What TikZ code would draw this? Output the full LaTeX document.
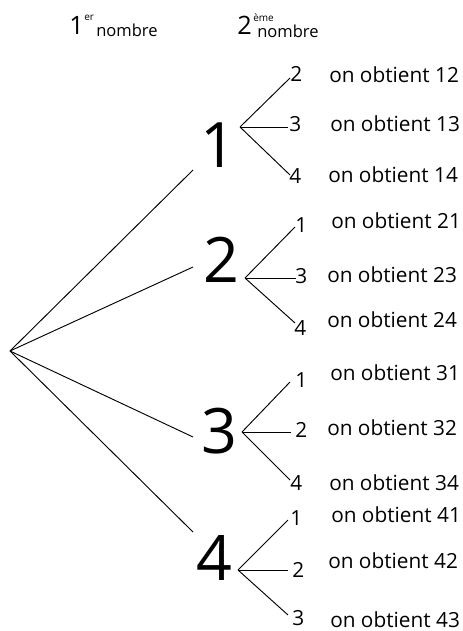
\documentclass[tikz,border=0pt]{standalone}
\usepackage{fontspec}
\setmainfont{Open Sans}
\begin{document}
\begin{tikzpicture}[x=0.75pt,y=-0.75pt,
  big/.style={font=\fontsize{47}{47}\selectfont, inner sep=0pt, anchor=base},
  lab/.style={font=\fontsize{15.6}{16}\selectfont, inner sep=0pt, anchor=base west},
  res/.style={font=\fontsize{15.6}{16}\selectfont, inner sep=0pt, anchor=base west},
  hnum/.style={font=\fontsize{19}{19}\selectfont, inner sep=0pt, anchor=base west},
  hsup/.style={font=\fontsize{7.5}{8}\selectfont, inner sep=0pt, anchor=base west},
  hword/.style={font=\fontsize{12.4}{13}\selectfont, inner sep=0pt, anchor=base west},
  edge/.style={draw=black, line width=0.7pt}]
\useasboundingbox (0,0) rectangle (463,631);
% header
\node[hnum] (h1) at (69,35) {1};
\node[hsup] (h1s) at (84,21) {er};
\node[hword] (h1w) at (96,37) {nombre};
\node[hnum] (h2) at (237,35) {2};
\node[hsup] (h2s) at (253,22) {ème};
\node[hword] (h2w) at (257,38) {nombre};
% root
\coordinate (root) at (10,351);
% first level
\node[big] (n1) at (218,167) {1};
\node[big] (n2) at (221,282) {2};
\node[big] (n3) at (219,453) {3};
\node[big] (n4) at (214,580) {4};
\coordinate (e1) at (193,170);
\coordinate (e2) at (193,267);
\coordinate (e3) at (193,437);
\coordinate (e4) at (193,532);
\draw[edge] (root) -- (e1);
\draw[edge] (root) -- (e2);
\draw[edge] (root) -- (e3);
\draw[edge] (root) -- (e4);
% branch points
\coordinate (b1) at (240,127);
\coordinate (b2) at (245,278);
\coordinate (b3) at (242,432);
\coordinate (b4) at (238,570);
% second level, group 1
\node[lab] (l12) at (290,82) {2};
\node[lab] (l13) at (289,132) {3};
\node[lab] (l14) at (289,183) {4};
\coordinate (c12) at (290,78);
\coordinate (c13) at (288,127);
\coordinate (c14) at (290,175);
\draw[edge] (b1) -- (c12);
\draw[edge] (b1) -- (c13);
\draw[edge] (b1) -- (c14);
\node[res] (r12) at (329,83) {on obtient 12};
\node[res] (r13) at (330,132) {on obtient 13};
\node[res] (r14) at (328,182) {on obtient 14};
% group 2
\node[lab] (l21) at (295,232) {1};
\node[lab] (l23) at (295,283) {3};
\node[lab] (l24) at (294,335) {4};
\coordinate (c21) at (295,227);
\coordinate (c23) at (296,278);
\coordinate (c24) at (295,323);
\draw[edge] (b2) -- (c21);
\draw[edge] (b2) -- (c23);
\draw[edge] (b2) -- (c24);
\node[res] (r21) at (331,228) {on obtient 21};
\node[res] (r23) at (327,282) {on obtient 23};
\node[res] (r24) at (327,327) {on obtient 24};
% group 3
\node[lab] (l31) at (295,387) {1};
\node[lab] (l32) at (295,437) {2};
\node[lab] (l34) at (290,490) {4};
\coordinate (c31) at (290,382);
\coordinate (c32) at (291,432);
\coordinate (c34) at (290,480);
\draw[edge] (b3) -- (c31);
\draw[edge] (b3) -- (c32);
\draw[edge] (b3) -- (c34);
\node[res] (r31) at (330,380) {on obtient 31};
\node[res] (r32) at (327,435) {on obtient 32};
\node[res] (r34) at (329,490) {on obtient 34};
% group 4
\node[lab] (l41) at (290,525) {1};
\node[lab] (l42) at (292,577) {2};
\node[lab] (l43) at (292,625) {3};
\coordinate (c41) at (288,520);
\coordinate (c42) at (288,570);
\coordinate (c43) at (288,615);
\draw[edge] (b4) -- (c41);
\draw[edge] (b4) -- (c42);
\draw[edge] (b4) -- (c43);
\node[res] (r41) at (331,522) {on obtient 41};
\node[res] (r42) at (328,568) {on obtient 42};
\node[res] (r43) at (330,627) {on obtient 43};
\end{tikzpicture}
\end{document}
